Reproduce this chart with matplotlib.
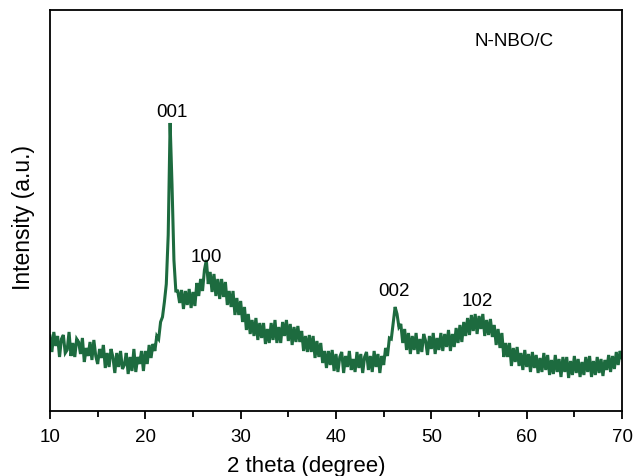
import matplotlib
matplotlib.use("Agg")
import matplotlib.pyplot as plt
import numpy as np

plt.rcParams["font.family"] = ["Liberation Sans", "DejaVu Sans"]

# XRD scan, every 0.2 degree (10 -> 70)
two_theta = np.round(np.arange(10, 70.001, 0.2), 1)
intensity = [
    74, 58, 78, 64, 74,   53, 71, 75, 57, 60,   78, 54, 67, 53, 71,     # 10-12
    68, 56, 72, 48, 62,   54, 68, 50, 70, 54,   46, 61, 52, 65, 42,     # 13-15
    57, 43, 61, 53, 37,   57, 43, 59, 41, 45,   57, 36, 53, 39, 61,     # 16-18
    38, 53, 46, 59, 39,   59, 46, 65, 52, 66,   59, 74, 71, 88, 93,     # 19-21
    108, 126, 175, 287, 225,   150, 119, 119, 107, 120,   101, 119, 105, 121, 102,   # 22-24
    118, 104, 127, 114, 131,   119, 140, 150, 126, 138,   118, 136, 114, 131, 111,   # 25-27
    131, 113, 128, 105, 119,   103, 119, 95, 112, 95,   109, 88, 103, 80, 96,     # 28-30
    76, 90, 74, 92, 70,   87, 72, 87, 66, 81,   67, 87, 70, 90, 67,     # 31-33
    83, 67, 88, 74, 90,   69, 86, 65, 83, 68,   84, 68, 79, 59, 74,     # 34-36
    58, 75, 58, 74, 52,   69, 53, 67, 47, 59,   42, 59, 45, 60, 39,     # 37-39
    56, 38, 53, 58, 37,   54, 43, 59, 40, 51,   38, 58, 42, 56, 37,     # 40-42
    53, 58, 40, 54, 38,   59, 43, 56, 37, 54,   45, 62, 54, 72, 71,     # 43-45
    87, 103, 96, 83, 86,   67, 81, 60, 77, 56,   74, 60, 77, 56, 71,     # 46-48
    58, 76, 69, 55, 74,   61, 77, 56, 72, 60,   77, 59, 76, 63, 80,     # 49-51
    59, 76, 63, 82, 67,   85, 68, 88, 74, 92,   75, 95, 79, 96, 76,     # 52-54
    94, 81, 96, 74, 90,   75, 91, 73, 85, 65,   81, 62, 77, 53, 67,     # 55-57
    53, 67, 44, 62, 48,   63, 44, 57, 40, 60,   43, 56, 38, 58, 42,     # 58-60
    55, 37, 52, 38, 57,   40, 55, 35, 50, 36,   55, 38, 51, 33, 53,     # 61-63
    38, 53, 32, 49, 35,   54, 37, 51, 33, 48,   35, 53, 38, 54, 33,     # 64-66
    49, 35, 53, 37, 51,   34, 50, 40, 55, 38,   54, 41, 58, 45, 59,     # 67-69
    52,                                                                 # 70
]

peak_labels = ["001", "100", "002", "102"]
peak_x = [22.8, 26.4, 46.1, 54.8]
peak_y = [298, 153, 119, 109]

fig = plt.figure(figsize=(6.36, 4.77), dpi=100)
ax = fig.add_axes([0.0786, 0.1363, 0.8994, 0.8407])

ax.plot(two_theta, intensity, color="#1d6b3f", lw=2.2, solid_joinstyle="miter")

for lab, px, py in zip(peak_labels, peak_x, peak_y):
    ax.text(px, py, lab, ha="center", va="center", fontsize=13.5)
ax.text(58.7, 369, "N-NBO/C", ha="center", va="center", fontsize=13.5)

ax.set_xlim(10, 70)
ax.set_ylim(-1, 400)
ax.set_xticks(range(10, 71, 10))
ax.set_xticks(range(15, 70, 10), minor=True)
ax.set_yticks([])
ax.tick_params(axis="x", which="major", direction="out", length=6, width=1.3,
               labelsize=13.5, pad=6)
ax.tick_params(axis="x", which="minor", direction="out", length=4, width=1.3)
for s in ax.spines.values():
    s.set_linewidth(1.3)

ax.set_xlabel("2 theta (degree)", fontsize=16)
ax.set_ylabel("Intensity (a.u.)", fontsize=16.5)
ax.xaxis.set_label_coords(0.448, -0.11)
ax.yaxis.set_label_coords(-0.027, 0.484)

fig.savefig("out.png", dpi=100)
